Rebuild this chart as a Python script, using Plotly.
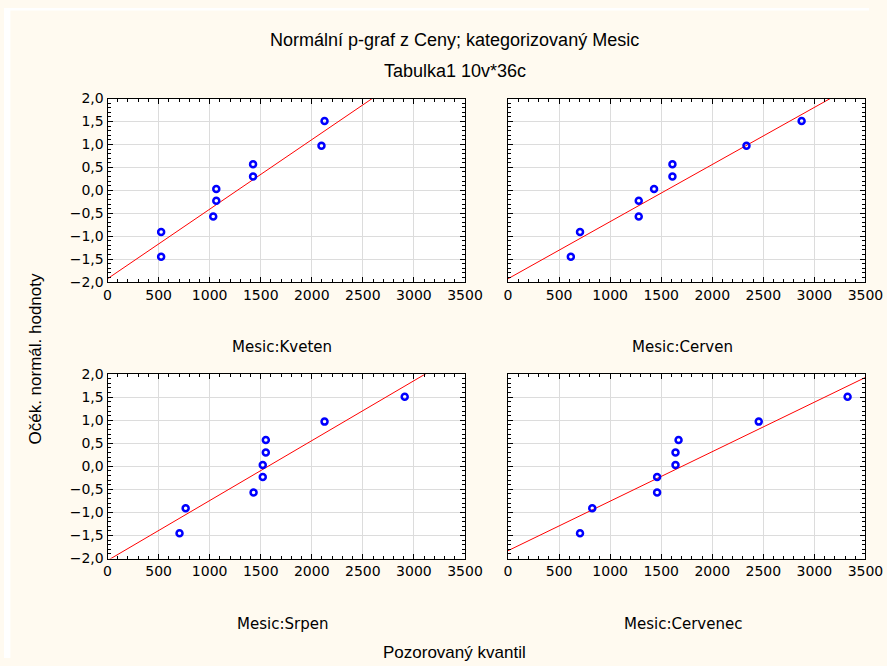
import plotly.graph_objects as go

W, H = 887, 666

# ---- data ----
panel_names = ["Mesic:Kveten", "Mesic:Cerven", "Mesic:Srpen", "Mesic:Cervenec"]

kveten_x = [525, 525, 1035, 1065, 1065, 1425, 1425, 2095, 2125]
kveten_y = [-0.91, -1.45, -0.57, -0.23, 0.03, 0.30, 0.57, 0.97, 1.51]

cerven_x = [615, 705, 1280, 1280, 1430, 1610, 1610, 2335, 2875]
cerven_y = [-1.45, -0.91, -0.57, -0.23, 0.03, 0.30, 0.57, 0.97, 1.51]

srpen_x = [705, 765, 1430, 1520, 1520, 1550, 1550, 2125, 2910]
srpen_y = [-1.45, -0.91, -0.57, -0.23, 0.03, 0.30, 0.57, 0.97, 1.51]

cervenec_x = [705, 825, 1460, 1460, 1640, 1640, 1670, 2455, 3325]
cervenec_y = [-1.45, -0.91, -0.57, -0.23, 0.03, 0.30, 0.57, 0.97, 1.51]

# fitted normal lines: y = intercept + slope * x
fit_intercept = [-1.93, -1.93, -2.043, -1.83]
fit_slope = [0.001517, 0.001246, 0.0013, 0.001074]

x_ticks = [0, 500, 1000, 1500, 2000, 2500, 3000, 3500]
y_ticks = [-2.0, -1.5, -1.0, -0.5, 0.0, 0.5, 1.0, 1.5, 2.0]

title_line1 = "Normální p-graf z Ceny; kategorizovaný Mesic"
title_line2 = "Tabulka1 10v*36c"
x_title = "Pozorovaný kvantil"
y_title = "Očék. normál. hodnoty"

series_x = [kveten_x, cerven_x, srpen_x, cervenec_x]
series_y = [kveten_y, cerven_y, srpen_y, cervenec_y]

# ---- layout (target screen pixels, mapped to paper fractions) ----
cream = "#FFFAF0"
SC, OX, OY = 0.974, 4.6, 7.6   # observed screenshot scale/offset of the page


def px_x(s):
    return (s - OX) / SC / W


def px_y(s):
    return 1 - (s - OY) / SC / H


panels_px = [  # (x0, x1, y_top, y_bottom) in target pixels
    (108, 465, 98, 281),
    (508, 865, 98, 281),
    (108, 465, 373, 557),
    (508, 865, 373, 557),
]

FONT = "Liberation Sans, Arial, sans-serif"
TICKFONT = "DejaVu Sans, Liberation Sans, sans-serif"

fig = go.Figure()
shapes = [
    dict(type="rect", xref="paper", yref="paper", x0=0, x1=max(px_x(11), 0), y0=0, y1=1,
         fillcolor="white", line=dict(width=0), layer="below"),
    dict(type="rect", xref="paper", yref="paper", x0=0, x1=1, y0=min(px_y(10), 1), y1=1,
         fillcolor="white", line=dict(width=0), layer="below"),
]

layout = dict(
    width=W, height=H,
    margin=dict(l=0, r=0, t=0, b=0),
    paper_bgcolor=cream,
    plot_bgcolor="white",
    showlegend=False,
    separators=", ",
    dragmode=False,
    font=dict(family=FONT, size=13, color="black"),
    shapes=shapes,
    annotations=[],
)

x_line = [x_ticks[0], x_ticks[-1]]
for i in range(4):
    n = "" if i == 0 else str(i + 1)
    xa, ya = "x" + n, "y" + n
    x0, x1, yt, yb = panels_px[i]
    layout["xaxis" + n] = dict(
        domain=[px_x(x0), min(px_x(x1), 1)], anchor=ya, range=[0, 3500], fixedrange=True,
        tickvals=x_ticks, ticktext=[str(v) for v in x_ticks],
        ticks="inside", ticklen=5, tickcolor="black", mirror="ticks",
        showline=True, linecolor="black", linewidth=1,
        showgrid=True, gridcolor="#DCDCDC", gridwidth=1, zeroline=False,
        minor=dict(dtick=100, tick0=0, ticks="inside", ticklen=3, tickcolor="black", showgrid=False),
        tickfont=dict(size=14, family=TICKFONT),
    )
    layout["yaxis" + n] = dict(
        domain=[px_y(yb), px_y(yt)], anchor=xa, range=[-2, 2], fixedrange=True,
        tickvals=y_ticks, tickformat=".1f", showticklabels=(i % 2 == 0),
        ticks="inside", ticklen=5, tickcolor="black", mirror="ticks",
        showline=True, linecolor="black", linewidth=1,
        showgrid=True, gridcolor="#DCDCDC", gridwidth=1, zeroline=False,
        minor=dict(dtick=0.1, tick0=0, ticks="inside", ticklen=3, tickcolor="black", showgrid=False),
        tickfont=dict(size=14, family=TICKFONT),
    )
    y_line = [fit_intercept[i] + fit_slope[i] * v for v in x_line]
    fig.add_trace(go.Scatter(x=x_line, y=y_line, mode="lines", xaxis=xa, yaxis=ya,
                             line=dict(color="red", width=1), hoverinfo="skip"))
    fig.add_trace(go.Scatter(x=series_x[i], y=series_y[i], mode="markers", xaxis=xa, yaxis=ya,
                             marker=dict(symbol="circle-open", size=6, color="#0000FF",
                                         line=dict(width=2.5, color="#0000FF"))))
    layout["annotations"].append(dict(
        text=panel_names[i], xref="paper", yref="paper",
        x=px_x((x0 + x1) / 2 - 4), y=px_y(yb + 65), showarrow=False,
        xanchor="center", yanchor="middle", font=dict(size=15, family=TICKFONT)))

layout["annotations"] += [
    dict(text=title_line1, xref="paper", yref="paper", x=px_x(455), y=px_y(40), showarrow=False,
         xanchor="center", yanchor="middle", font=dict(size=18, family=FONT)),
    dict(text=title_line2, xref="paper", yref="paper", x=px_x(455), y=px_y(70), showarrow=False,
         xanchor="center", yanchor="middle", font=dict(size=18, family=FONT)),
    dict(text=x_title, xref="paper", yref="paper", x=px_x(455), y=px_y(651), showarrow=False,
         xanchor="center", yanchor="middle", font=dict(size=17, family=FONT)),
    dict(text=y_title, xref="paper", yref="paper", x=px_x(36), y=px_y(357), showarrow=False,
         textangle=-90, xanchor="center", yanchor="middle", font=dict(size=17, family=FONT)),
]

fig.update_layout(**layout)
fig.write_html("out.html", config={"staticPlot": True})
